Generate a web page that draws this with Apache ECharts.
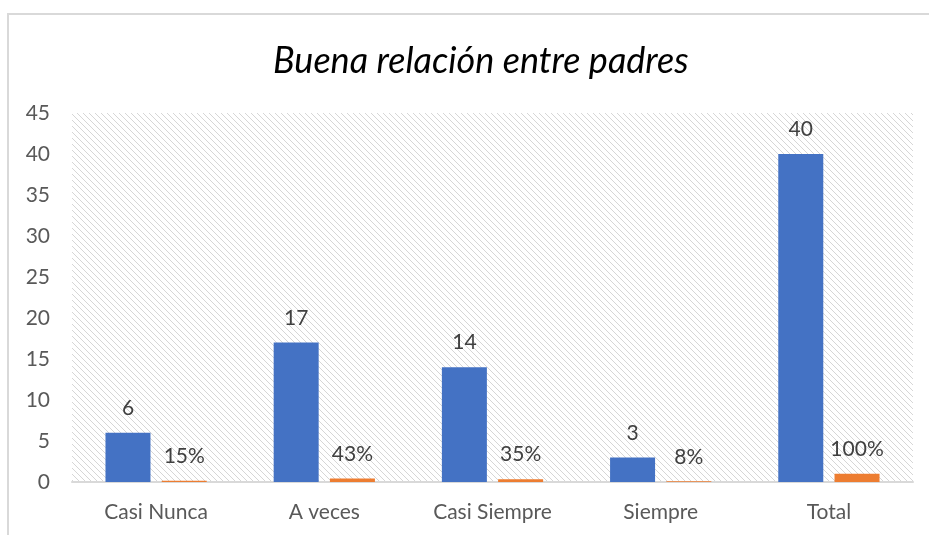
<!DOCTYPE html>
<html>
<head>
<meta charset="utf-8">
<script src="https://cdn.jsdelivr.net/npm/echarts@6/dist/echarts.min.js"></script>
<style>
  html, body { margin: 0; padding: 0; background: #fff; }
  #frame { position: absolute; left: 7px; top: 13px; width: 940px; height: 540px; border-left: 2px solid #d9d9d9; border-top: 2px solid #d9d9d9; }
  #chart { position: absolute; left: 0; top: 0; width: 929px; height: 535px; }
</style>
</head>
<body>
<div id="frame"></div>
<div id="chart"></div>
<script>
// 数据
const categories = ["Casi Nunca", "A veces", "Casi Siempre", "Siempre", "Total"];
const frecuencia = [6, 17, 14, 3, 40];
const porcentaje = [0.15, 0.43, 0.35, 0.08, 1];
const yTicks = [0, 5, 10, 15, 20, 25, 30, 35, 40, 45];

// 斜线底纹
function makeHatch() {
  const c = document.createElement("canvas");
  c.width = 6; c.height = 6;
  const ctx = c.getContext("2d");
  ctx.fillStyle = "#ffffff";
  ctx.fillRect(0, 0, 6, 6);
  ctx.fillStyle = "#d6d6d6";
  for (let i = 0; i < 6; i++) {
    ctx.fillRect(i, i, 1, 1);
  }
  return c;
}

const chart = echarts.init(document.getElementById("chart"));
const font = "Lato, 'Open Sans', sans-serif";

chart.setOption({
  animation: false,
  title: {
    text: "Buena relación entre padres",
    left: 268,
    top: 38,
    textStyle: { fontFamily: font, fontStyle: "italic", fontWeight: "normal", fontSize: 36, color: "#000" }
  },
  grid: {
    left: 72, right: 16, top: 113, bottom: 53,
    show: true,
    borderWidth: 0,
    backgroundColor: { image: makeHatch(), repeat: "repeat" }
  },
  xAxis: {
    type: "category",
    data: categories,
    axisLine: { lineStyle: { color: "#d9d9d9", width: 2 } },
    axisTick: { show: false },
    axisLabel: { color: "#595959", fontSize: 21, fontFamily: font, margin: 20 }
  },
  yAxis: {
    type: "value",
    min: yTicks[0],
    max: yTicks[yTicks.length - 1],
    interval: 5,
    splitLine: { show: false },
    axisLine: { show: false },
    axisTick: { show: false },
    axisLabel: { color: "#595959", fontSize: 21, fontFamily: font, margin: 22 }
  },
  series: [
    {
      name: "Frecuencia",
      type: "bar",
      data: frecuencia,
      barWidth: 45,
      barGap: "25%",
      itemStyle: { color: "#4472C4" },
      label: { show: true, position: "top", distance: 14, color: "#404040", fontSize: 21, fontFamily: font }
    },
    {
      name: "Porcentaje",
      type: "bar",
      data: porcentaje,
      barWidth: 45,
      itemStyle: { color: "#ED7D31" },
      label: {
        show: true, position: "top", distance: 14, color: "#404040", fontSize: 21, fontFamily: font,
        formatter: (p) => Math.round(p.value * 100) + "%"
      }
    }
  ]
});
</script>
</body>
</html>
